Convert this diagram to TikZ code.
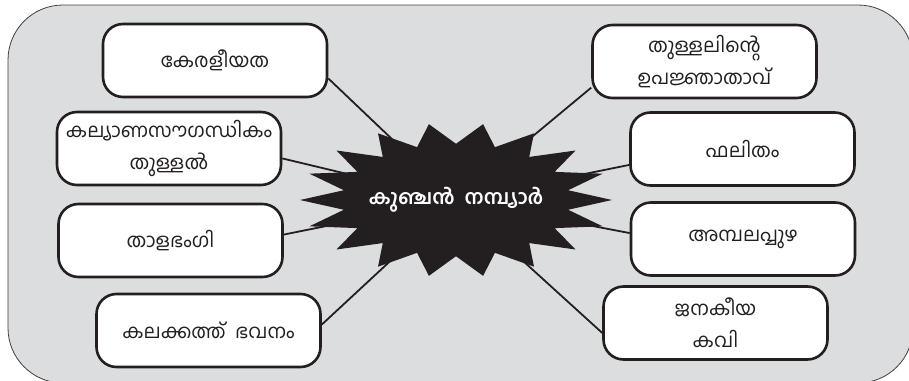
\documentclass[tikz,border=0pt]{standalone}
\usepackage{fontspec}
\newfontfamily\mlfont[Script=Malayalam]{Hind Kochi}

\definecolor{bggrey}{RGB}{220,221,223}
\definecolor{inkblack}{RGB}{35,31,32}

\tikzset{
    topic/.style={draw=inkblack, line width=2.6pt, fill=white, rounded corners=20pt,
        minimum width=224pt, minimum height=73pt, align=center, text=inkblack,
        font=\mlfont\fontsize{19.5}{32}\selectfont},
    link/.style={draw=inkblack, line width=1.8pt}
}

\begin{document}
\begin{tikzpicture}[x=1pt,y=-1pt]
                \useasboundingbox (0,0) rectangle (909,380);
                % background panel
                \draw[fill=bggrey, draw=black!75, line width=0.8pt, rounded corners=55pt]
                    (8,5) rectangle (913,383);
                % left side
                \node[topic] (ker) at (215,60.5) {കേരളീയത};
                \node[topic] (kal) at (169,148.5) {കല്യാണസൗഗന്ധികം\\തുള്ളൽ};
                \node[topic] (tal) at (170.5,240.5) {താളഭംഗി};
                \node[topic] (kalak) at (208.5,330.5) {കലക്കത്ത്\ \ ഭവനം};
                % right side
                \node[topic] (thu) at (704.5,61.5) {തുള്ളലിന്റെ\\ഉപജ്ഞാതാവ്};
                \node[topic] (pha) at (742.5,149) {ഫലിതം};
                \node[topic] (amb) at (743,239) {അമ്പലപ്പുഴ};
                \node[topic] (jan) at (715.5,323) {ജനകീയ\\കവി};
                \coordinate (hub) at (456,200);
                \draw[link] (ker.-9) -- (hub);
                \draw[link] (kal.-5) -- (hub);
                \draw[link] (tal.3.5) -- (hub);
                \draw[link] (kalak.3.5) -- (hub);
                \draw[link] (thu.193) -- (hub);
                \draw[link] (pha.188) -- (hub);
                \draw[link] (amb.177) -- (hub);
                \draw[link] (jan.185) -- (hub);
                % starburst
                \fill[inkblack, shift={(456,200)}]
                    plot[variable=\k, samples at={0,...,35}]
                    ({156*cos(\k*10)*(1-0.27*mod(\k,2))},{77*sin(\k*10)*(1-0.27*mod(\k,2))})
                    -- cycle;
                \node[text=white, font=\mlfont\bfseries\fontsize{20}{24}\selectfont] (kn) at (hub)
                    {കുഞ്ചൻ\ \ നമ്പ്യാർ};
            \end{tikzpicture}
\end{document}
